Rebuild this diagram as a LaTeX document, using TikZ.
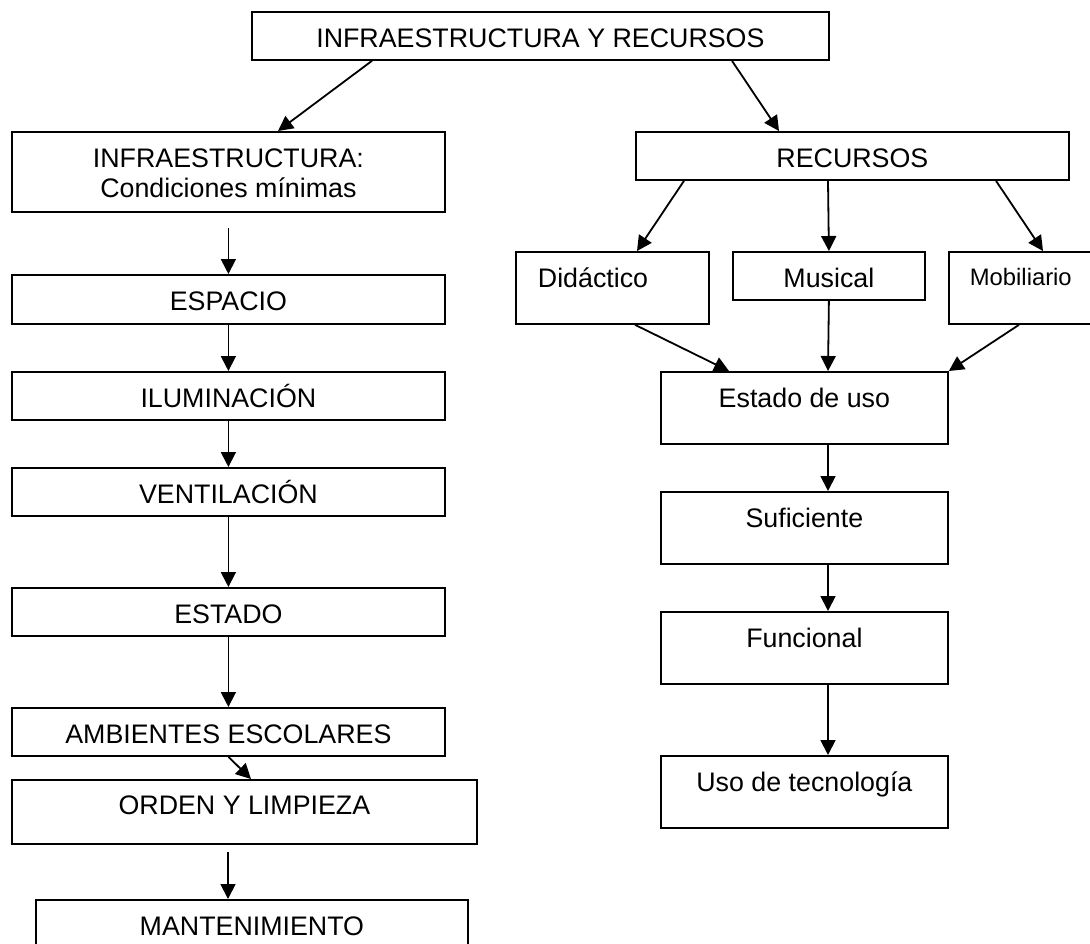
\documentclass[tikz,border=0pt]{standalone}
\usepackage{fontspec}
\setmainfont{Liberation Sans}
\usetikzlibrary{arrows.meta,calc}
\begin{document}
\begin{tikzpicture}[x=1pt,y=-1pt,
  bx/.style={draw, line width=1.8pt, inner sep=0pt, anchor=north west,
    text height=36pt, font=\fontsize{26.8}{30}\selectfont},
  arr/.style={line width=1.8pt, -{Triangle[length=15pt,width=15pt]}}]
\useasboundingbox (0,0) rectangle (1090,943);
% boxes
\node[bx, minimum width=577pt, text depth=12pt] (top) at (251,11) {INFRAESTRUCTURA Y RECURSOS};
\node[bx, minimum width=433pt, text depth=44pt] (infra) at (11,131)
  {\begin{tabular}[t]{@{}c@{}}INFRAESTRUCTURA:\\Condiciones mínimas\end{tabular}};
\node[bx, minimum width=433pt, text depth=13pt] (espacio) at (11,274) {ESPACIO};
\node[bx, minimum width=433pt, text depth=12pt] (ilum) at (11,371) {ILUMINACIÓN};
\node[bx, minimum width=433pt, text depth=12pt] (vent) at (11,467) {VENTILACIÓN};
\node[bx, minimum width=433pt, text depth=12pt] (estado) at (11,587) {ESTADO};
\node[bx, minimum width=433pt, text depth=12pt] (amb) at (11,707) {AMBIENTES ESCOLARES};
\node[bx, minimum width=465pt, text height=35pt, text depth=29pt] (orden) at (11,779) {ORDEN Y LIMPIEZA};
\node[bx, minimum width=432pt, text depth=36pt] (mant) at (35,899) {MANTENIMIENTO};
\node[bx, minimum width=433pt, text depth=12pt] (recursos) at (635,131) {RECURSOS};
\node[bx, inner xsep=22pt, text width=149pt, align=left, text depth=36pt] (did) at (515,251) {Didáctico};
\node[bx, minimum width=192pt, text depth=12pt] (mus) at (732,251) {Musical};
\node[bx, inner xsep=21pt, text width=108pt, align=left, text height=34pt, text depth=38pt,
  font=\fontsize{23.8}{28}\selectfont] (mob) at (948,251) {Mobiliario};
\node[bx, minimum width=287pt, text depth=36pt] (eu) at (660,371) {Estado de uso};
\node[bx, minimum width=287pt, text depth=36pt] (suf) at (660,491) {Suficiente};
\node[bx, minimum width=287pt, text depth=36pt] (func) at (660,611) {Funcional};
\node[bx, minimum width=287pt, text depth=36pt] (uso) at (660,755) {Uso de tecnología};
% connectors
\draw[arr] ($(top.south west)+(121,0)$) -- ($(infra.north west)+(267,0)$);
\draw[arr] ($(top.south west)+(481,0)$) -- ($(recursos.north west)+(144,0)$);
\draw[arr] ($(infra.south)+(0,15)$) -- (espacio.north);
\draw[arr] (espacio.south) -- (ilum.north);
\draw[arr] (ilum.south) -- (vent.north);
\draw[arr] (vent.south) -- (estado.north);
\draw[arr] (estado.south) -- (amb.north);
\draw[arr] (amb.south) -- ($(orden.north west)+(240,0)$);
\draw[arr] ($(orden.south west)+(217,7)$) -- ($(mant.north west)+(193,0)$);
\draw[arr] ($(recursos.south west)+(49,0)$) -- ($(did.north west)+(122,0)$);
\draw[arr] ($(recursos.south west)+(193,0)$) -- (mus.north);
\draw[arr] ($(recursos.south west)+(361,0)$) -- ($(mob.north west)+(95,0)$);
\draw[arr] ($(did.south west)+(120,0)$) -- ($(eu.north west)+(69,0)$);
\draw[arr] (mus.south) -- ($(eu.north west)+(168,0)$);
\draw[arr] ($(mob.south west)+(71,0)$) -- (eu.north east);
\draw[arr] ($(eu.south west)+(168,0)$) -- ($(suf.north west)+(168,0)$);
\draw[arr] ($(suf.south west)+(168,0)$) -- ($(func.north west)+(168,0)$);
\draw[arr] ($(func.south west)+(168,0)$) -- ($(uso.north west)+(168,0)$);
\end{tikzpicture}
\end{document}
